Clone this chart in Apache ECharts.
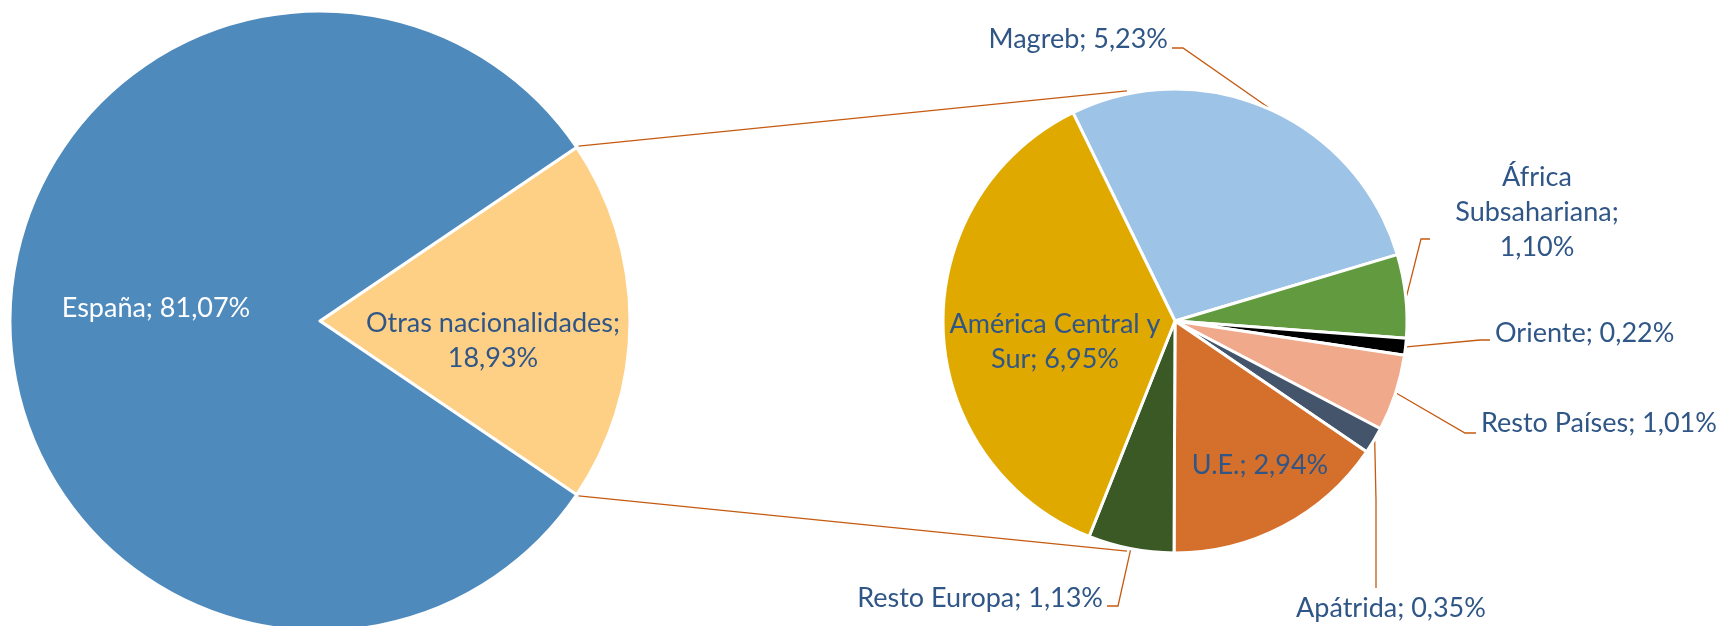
<!DOCTYPE html>
<html>
<head>
<meta charset="utf-8">
<script src="https://cdn.jsdelivr.net/npm/echarts@6/dist/echarts.min.js"></script>
<style>
  html, body { margin: 0; padding: 0; background: #fff; }
  #chart { width: 1717px; height: 626px; }
</style>
</head>
<body>
<div id="chart"></div>
<script>
// primer gráfico: total población
const mainNames = ['Otras nacionalidades', 'España']
const mainValues = [18.93, 81.07]
const mainColors = ['#FED086', '#4F8ABD']

// desglose de "Otras nacionalidades"
const subNames = ['Magreb', 'África Subsahariana', 'Oriente', 'Resto Países', 'Apátrida', 'U.E.', 'Resto Europa', 'América Central y Sur']
const subValues = [5.23, 1.10, 0.22, 1.01, 0.35, 2.94, 1.13, 6.95]
const subColors = ['#9DC3E6', '#629B3F', '#000000', '#F0A98A', '#44546A', '#D46F2C', '#3B5925', '#E0A900']

// geometry
const L = { cx: 320, cy: 321, r: 310 }
const R = { cx: 1175, cy: 321, r: 232, start: 116.1 }
const JOIN_ANGLE = 101.8
const TEXT = '#2F5686'
const LINE = '#C55A11'
const FONT = 'Lato, "Noto Sans", sans-serif'
const FS = 27

// label anchors [x, y, align]; line = points after the slice edge
const mainLabelPos = {
  'España': [156, 308, 'center'],
  'Otras nacionalidades': [493, 341, 'center']
}
const subLabelPos = {
  'Magreb': { at: [1168, 39, 'right'], line: [[1183, 48], [1172, 48]] },
  'África Subsahariana': { at: [1537, 212, 'center'], line: [[1421, 239], [1430, 239]] },
  'Oriente': { at: [1495, 333, 'left'], line: [[1480, 340], [1490, 340]] },
  'Resto Países': { at: [1481, 423, 'left'], line: [[1465, 433], [1476, 433]] },
  'Apátrida': { at: [1391, 608, 'center'], line: [[1376, 500], [1376, 588]] },
  'U.E.': { at: [1260, 465, 'center'] },
  'Resto Europa': { at: [1103, 598, 'right'], line: [[1118, 606], [1107, 606]] },
  'América Central y Sur': { at: [1055, 342, 'center'] }
}
// where the label text wraps
const wrapText = {
  'Otras nacionalidades': 'Otras nacionalidades;\n',
  'África Subsahariana': 'África\nSubsahariana;\n',
  'América Central y Sur': 'América Central y\nSur; '
}

const pct = (v) => v.toFixed(2).replace('.', ',') + '%'
const deg = Math.PI / 180

function edgePoint(i) {
  const total = subValues.reduce((a, b) => a + b, 0)
  let before = 0
  for (let k = 0; k < i; k++) before += subValues[k]
  const mid = (R.start - (before + subValues[i] / 2) / total * 360) * deg
  return [R.cx + (R.r + 1) * Math.cos(mid), R.cy - (R.r + 1) * Math.sin(mid)]
}

const baseLabel = {
  show: true,
  fontFamily: FONT,
  fontSize: FS,
  lineHeight: 35,
  color: TEXT,
  formatter: (p) => (wrapText[p.name] || p.name + '; ') + pct(p.value)
}

const mainData = mainNames.map((n, i) => ({
  name: n,
  value: mainValues[i],
  itemStyle: { color: mainColors[i] },
  label: { position: 'inside', color: n === 'España' ? '#fff' : TEXT }
}))

const subData = subNames.map((n, i) => {
  const inside = !subLabelPos[n].line
  return {
    name: n,
    value: subValues[i],
    itemStyle: { color: subColors[i] },
    label: { position: inside ? 'inside' : 'outside' },
    labelLine: { show: !inside }
  }
})

// connector lines between both pies
const half = mainValues[0] / (mainValues[0] + mainValues[1]) * Math.PI
const joins = [1, -1].map((s) => ({
  type: 'line',
  silent: true,
  shape: {
    x1: L.cx + (L.r + 2) * Math.cos(half),
    y1: L.cy - s * (L.r + 2) * Math.sin(half),
    x2: R.cx + (R.r + 3) * Math.cos(JOIN_ANGLE * deg),
    y2: R.cy - s * (R.r + 3) * Math.sin(JOIN_ANGLE * deg)
  },
  style: { stroke: LINE, lineWidth: 1.3 }
}))

const chart = echarts.init(document.getElementById('chart'), null, { renderer: 'canvas' })
chart.setOption({
  backgroundColor: '#fff',
  animation: false,
  graphic: joins,
  series: [
    {
      type: 'pie',
      center: [L.cx, L.cy],
      radius: L.r,
      startAngle: half / deg,
      clockwise: true,
      avoidLabelOverlap: false,
      silent: true,
      itemStyle: { borderColor: '#fff', borderWidth: 3 },
      label: baseLabel,
      labelLine: { show: false },
      labelLayout: (p) => {
        const pos = mainLabelPos[mainNames[p.dataIndex]]
        return { x: pos[0], y: pos[1], align: pos[2], verticalAlign: 'middle' }
      },
      data: mainData
    },
    {
      type: 'pie',
      center: [R.cx, R.cy],
      radius: R.r,
      startAngle: R.start,
      clockwise: true,
      avoidLabelOverlap: false,
      silent: true,
      itemStyle: { borderColor: '#fff', borderWidth: 3 },
      label: baseLabel,
      labelLine: { show: true, lineStyle: { color: LINE, width: 1.3 } },
      labelLayout: (p) => {
        const pos = subLabelPos[subNames[p.dataIndex]]
        const res = { x: pos.at[0], y: pos.at[1], align: pos.at[2], verticalAlign: 'middle' }
        if (pos.line) res.labelLinePoints = [edgePoint(p.dataIndex)].concat(pos.line)
        return res
      },
      data: subData
    }
  ]
})
</script>
</body>
</html>
